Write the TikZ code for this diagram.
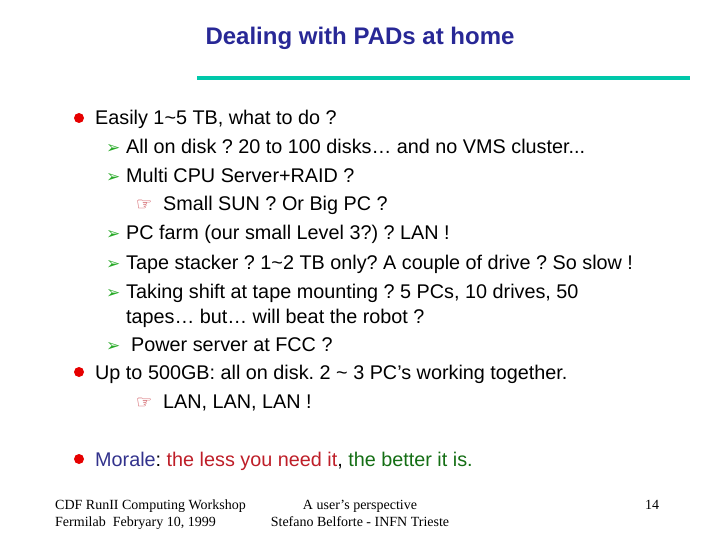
\documentclass[tikz,border=0pt]{standalone}
\usepackage{fontspec}
\setmainfont{Liberation Sans}
\newfontfamily\djvfont{DejaVu Sans}
\newfontfamily\tmsfont{Liberation Serif}
\definecolor{ttl}{RGB}{40,40,150}
\definecolor{rulec}{RGB}{0,200,170}
\definecolor{bred}{RGB}{230,0,0}
\definecolor{agreen}{RGB}{40,170,40}
\definecolor{mred}{RGB}{190,30,40}
\definecolor{mgreen}{RGB}{20,110,20}
\definecolor{mblue}{RGB}{50,50,140}
\frenchspacing
\begin{document}
\begin{tikzpicture}[x=1pt,y=-1pt,
  txt/.style={anchor=base west,inner sep=0pt,font=\frenchspacing\fontsize{19.8}{22}\selectfont},
  dot/.style={circle,fill=bred,inner sep=0pt,minimum size=10pt},
  arr/.style={anchor=base west,inner sep=0pt,text=agreen,font=\djvfont\fontsize{17}{18}\selectfont},
  hand/.style={anchor=base west,inner sep=0pt,text=mred,font=\djvfont\fontsize{18}{18}\selectfont},
  foot/.style={anchor=base west,inner sep=0pt,font=\tmsfont\fontsize{14}{16}\selectfont}]
\useasboundingbox (0,0) rectangle (720,540);
\node[anchor=base,font=\bfseries\fontsize{24}{28}\selectfont,text=ttl] (title) at (360,45) {Dealing with PADs at home};
\coordinate (r1) at (197,78); \coordinate (r2) at (690,78);
\draw[rulec,line width=4pt] (r1) -- (r2);
\node[dot] (d1) at (79,118) {}; \node[txt] (t1) at (95,125) {Easily 1\textasciitilde5 TB, what to do ?};
\node[arr] (a1) at (106,154) {➢}; \node[txt] (t2) at (126,154) {All on disk ? 20 to 100 disks… and no VMS cluster...};
\node[arr] (a2) at (106,183) {➢}; \node[txt] (t3) at (126,183) {Multi CPU Server+RAID ?};
\node[hand] (h1) at (136,211) {☞}; \node[txt] (t4) at (163,211) {Small SUN ? Or Big PC ?};
\node[arr] (a3) at (106,240) {➢}; \node[txt] (t5) at (126,240) {PC farm (our small Level 3?) ? LAN !};
\node[arr] (a4) at (106,269) {➢}; \node[txt] (t6) at (126,269) {Tape stacker ? 1\textasciitilde2 TB only? A couple of drive ? So slow !};
\node[arr] (a5) at (106,298) {➢}; \node[txt] (t7) at (126,298) {Taking shift at tape mounting ? 5 PCs, 10 drives, 50};
\node[txt] (t8) at (126,323) {tapes… but… will beat the robot ?};
\node[arr] (a6) at (106,351) {➢}; \node[txt] (t9) at (131,351) {Power server at FCC ?};
\node[dot] (d2) at (79,372) {}; \node[txt] (t10) at (95,379) {Up to 500GB: all on disk. 2 \textasciitilde{} 3 PC’s working together.};
\node[hand] (h2) at (136,408) {☞}; \node[txt] (t11) at (163,408) {LAN, LAN, LAN !};
\node[dot] (d3) at (79,459) {}; \node[txt] (t12) at (95,466) {\textcolor{mblue}{Morale}: \textcolor{mred}{the less you need it}, \textcolor{mgreen}{the better it is.}};
\node[foot] (f1) at (55,509) {CDF RunII Computing Workshop};
\node[foot] (f2) at (55,526) {Fermilab\enspace Febryary 10, 1999};
\node[foot,anchor=base] (f3) at (360,509) {A user’s perspective};
\node[foot,anchor=base] (f4) at (360,526) {Stefano Belforte - INFN Trieste};
\node[foot] (f5) at (645,509) {14};
\end{tikzpicture}
\end{document}
